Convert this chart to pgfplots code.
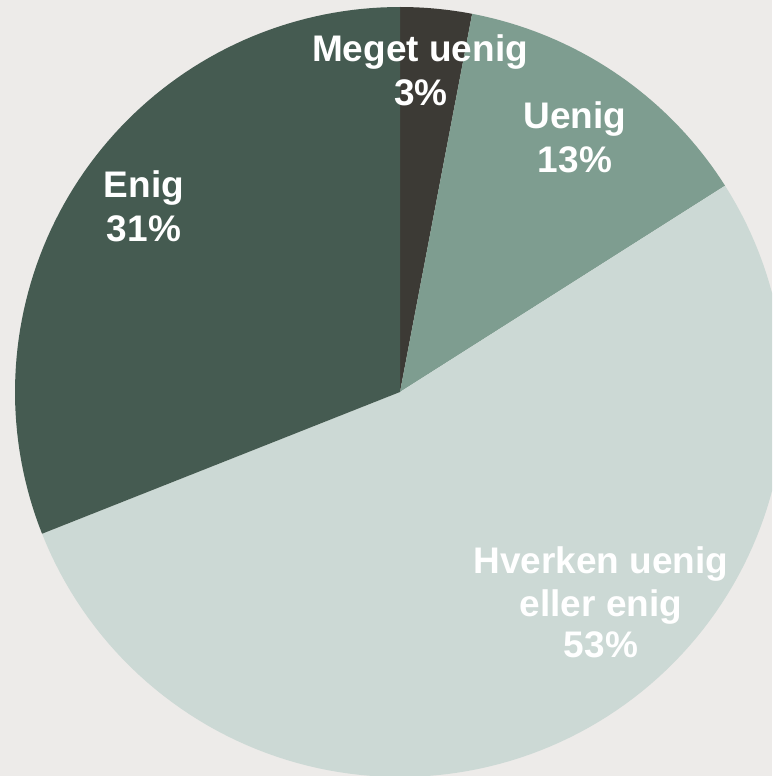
\documentclass[border=0pt]{standalone}
\usepackage{pgfplots}
\pgfplotsset{compat=1.18}
\usepackage{fontspec}
\setmainfont{Liberation Sans}
\definecolor{bg}{HTML}{EDEBE9}
\definecolor{c1}{HTML}{3C3A35}
\definecolor{c2}{HTML}{7E9D90}
\definecolor{c3}{HTML}{CCD9D5}
\definecolor{c4}{HTML}{455B51}
% shares in percent
\def\vA{3}\def\vB{13}\def\vC{53}\def\vD{31}
\begin{document}
\begin{tikzpicture}
\pgfmathsetmacro\aA{90}
\pgfmathsetmacro\aB{\aA-\vA*3.6}
\pgfmathsetmacro\aC{\aB-\vB*3.6}
\pgfmathsetmacro\aD{\aC-\vC*3.6}
\pgfmathsetmacro\aE{\aD-\vD*3.6}
\begin{axis}[
  width=772pt, height=776pt, scale only axis,
  xmin=0, xmax=772, ymin=0, ymax=776,
  axis lines=none, ticks=none,
  clip=true,
]
\fill[bg] (rel axis cs:0,0) rectangle (rel axis cs:1,1);
\addplot[fill=c1, draw=none, domain=\aB:\aA, samples=20] ({400+385*cos(x)},{384+385*sin(x)}) -- (axis cs:400,384) -- cycle;
\addplot[fill=c2, draw=none, domain=\aC:\aB, samples=40] ({400+385*cos(x)},{384+385*sin(x)}) -- (axis cs:400,384) -- cycle;
\addplot[fill=c3, draw=none, domain=\aD:\aC, samples=120] ({400+385*cos(x)},{384+385*sin(x)}) -- (axis cs:400,384) -- cycle;
\addplot[fill=c4, draw=none, domain=\aE:\aD, samples=80] ({400+385*cos(x)},{384+385*sin(x)}) -- (axis cs:400,384) -- cycle;
\begin{scope}[every node/.style={anchor=base, text=white, font=\fontsize{37}{44}\selectfont\bfseries, inner sep=0pt}]
\node at (axis cs:420,714) {Meget uenig};
\node at (axis cs:421,670) {\vA\%};
\node at (axis cs:575,647) {Uenig};
\node at (axis cs:575,603) {\vB\%};
\node at (axis cs:144,578) {Enig};
\node at (axis cs:144,534) {\vD\%};
\node at (axis cs:601,202) {Hverken uenig};
\node at (axis cs:601,159) {eller enig};
\node at (axis cs:601,118) {\vC\%};
\end{scope}
\end{axis}
\end{tikzpicture}
\end{document}
